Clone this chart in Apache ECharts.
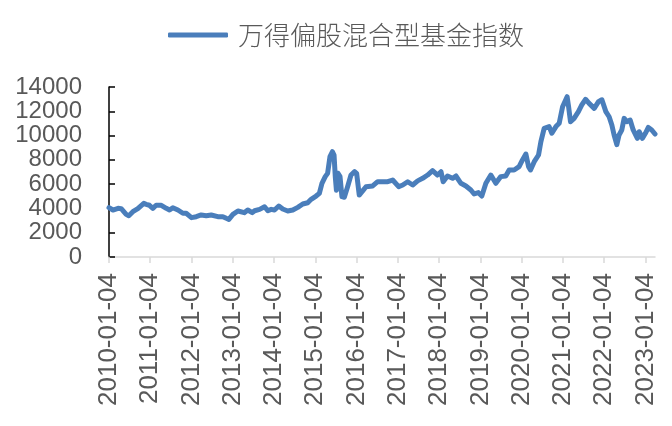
<!DOCTYPE html>
<html>
<head>
<meta charset="utf-8">
<script src="https://cdn.jsdelivr.net/npm/echarts@6/dist/echarts.min.js"></script>
<style>html,body{margin:0;padding:0;background:#fff;}#c{width:672px;height:426px;}</style>
</head>
<body>
<div id="c"></div>
<script>
const seriesName = '万得偏股混合型基金指数';
const dates = [
'2010-01-04','2010-02-08','2010-03-25','2010-04-22','2010-06-05','2010-06-28','2010-08-03','2010-09-16','2010-11-08','2010-11-28','2010-12-28',
'2011-01-27','2011-02-25','2011-04-12','2011-05-26','2011-06-24','2011-07-23','2011-09-06','2011-10-20','2011-11-18',
'2012-01-04','2012-02-15','2012-03-30','2012-05-14','2012-06-27','2012-08-24','2012-10-08','2012-11-07','2012-11-30',
'2013-01-05','2013-02-18','2013-04-15','2013-05-16','2013-06-25','2013-07-16','2013-08-29','2013-10-12','2013-11-10','2013-12-10',
'2014-01-08','2014-02-15','2014-03-22','2014-05-05','2014-06-19','2014-08-02','2014-09-15','2014-10-29','2014-11-28',
'2015-01-11','2015-02-09','2015-03-04','2015-04-02','2015-04-23','2015-05-14','2015-06-05','2015-06-19','2015-06-30','2015-07-10','2015-07-24','2015-08-11','2015-08-28','2015-09-18','2015-10-17','2015-11-16','2015-12-18',
'2016-01-05','2016-01-28','2016-02-22','2016-03-28','2016-04-11','2016-05-26','2016-07-09','2016-08-23','2016-10-06','2016-11-19',
'2017-01-11','2017-02-16','2017-04-01','2017-05-15','2017-06-28','2017-08-11','2017-09-24','2017-11-07','2017-12-21',
'2018-01-21','2018-02-09','2018-03-19','2018-05-03','2018-06-02','2018-07-16','2018-08-29','2018-10-12','2018-11-10','2018-12-18',
'2019-01-17','2019-02-22','2019-04-07','2019-05-21','2019-07-04','2019-08-17','2019-09-16','2019-10-30','2019-12-13',
'2020-01-12','2020-02-11','2020-03-06','2020-03-23','2020-04-25','2020-06-02','2020-06-23','2020-07-22','2020-09-04','2020-09-28','2020-11-03','2020-12-02',
'2021-01-01','2021-02-10','2021-02-23','2021-03-12','2021-04-13','2021-05-21','2021-06-20','2021-07-23','2021-08-24','2021-10-08','2021-11-15','2021-12-15',
'2022-01-19','2022-02-17','2022-03-13','2022-04-02','2022-04-26','2022-05-16','2022-06-09','2022-06-30','2022-07-23','2022-08-22','2022-09-18','2022-10-25','2022-11-10','2022-12-09',
'2023-01-04','2023-01-30','2023-03-01','2023-03-30'
];
const values = [
4060,3870,4010,3980,3510,3400,3730,3980,4420,4340,4260,
4010,4260,4260,4010,3870,4060,3870,3600,3600,
3240,3320,3460,3400,3460,3320,3320,3190,3100,
3510,3790,3650,3870,3650,3810,3925,4140,3810,3925,
3870,4200,3950,3790,3870,4090,4365,4470,4750,
5020,5245,6070,6615,6890,8260,8670,8400,6615,5500,6890,6615,4970,4915,5790,6750,7025,
6890,5105,5380,5790,5930,5850,6200,6200,6200,6340,
5790,5930,6200,5930,6270,6480,6750,7110,6750,
7025,6200,6670,6480,6670,6070,5850,5520,5190,5300,
5020,6070,6750,6070,6620,6670,7165,7165,7440,
7990,8480,7440,7165,7850,8400,9500,10600,10740,10190,10740,11010,
12380,13200,12380,11140,11420,11970,12520,12990,12650,12240,12790,12950,
11970,11550,10870,10050,9250,10050,10460,11420,11140,11280,10460,9770,10320,9770,
10190,10670,10460,10130
];
const tickLabels = ['2010-01-04','2011-01-04','2012-01-04','2013-01-04','2014-01-04','2015-01-04','2016-01-04','2017-01-04','2018-01-04','2019-01-04','2020-01-04','2021-01-04','2022-01-04','2023-01-04'];
const yTicks = { min: 0, max: 14000, interval: 2000 };

const toTime = s => echarts.number.parseDate(s).getTime();
const tickTimes = tickLabels.map(toTime);
const lineColor = '#4a7ebb';
const chart = echarts.init(document.getElementById('c'), null, { renderer: 'canvas' });
chart.setOption({
  animation: false,
  backgroundColor: '#fff',
  legend: {
    top: 17, left: 163,
    itemWidth: 60, itemHeight: 5, itemGap: 10,
    textStyle: { fontFamily: 'Noto Sans CJK SC', fontSize: 26, fontWeight: 300, color: '#595959', padding: [0, 0, 0, 5] },
    data: [{ name: seriesName, icon: 'roundRect', itemStyle: { color: lineColor } }]
  },
  grid: { left: 109, right: 17, top: 87, bottom: 169, containLabel: false },
  xAxis: {
    type: 'value', scale: true,
    min: toTime(dates[0]), max: toTime(dates[dates.length - 1]),
    axisLine: { show: true, onZero: false, lineStyle: { color: '#d9d9d9', width: 1.5 } },
    axisTick: { show: true, customValues: tickTimes, length: 6, lineStyle: { color: '#d9d9d9', width: 1.5 } },
    axisLabel: {
      customValues: tickTimes, rotate: 90, margin: 16, showMinLabel: true, showMaxLabel: true,
      fontFamily: 'Liberation Sans', fontSize: 26, color: '#595959',
      formatter: v => echarts.time.format(v, '{yyyy}-{MM}-{dd}', false)
    },
    splitLine: { show: false }
  },
  yAxis: {
    type: 'value', min: yTicks.min, max: yTicks.max, interval: yTicks.interval,
    axisLine: { show: true, lineStyle: { color: '#000', width: 1.5 } },
    axisTick: { show: true, inside: true, length: 6, lineStyle: { color: '#000', width: 1.5 } },
    axisLabel: { fontFamily: 'Liberation Sans', fontSize: 24, color: '#595959', margin: 27, formatter: v => String(v) },
    splitLine: { show: false }
  },
  series: [{
    name: seriesName, type: 'line', symbol: 'none', showSymbol: false,
    lineStyle: { color: lineColor, width: 5, cap: 'round', join: 'round' },
    itemStyle: { color: lineColor },
    data: dates.map((d, i) => [toTime(d), values[i]])
  }]
});
</script>
</body>
</html>
